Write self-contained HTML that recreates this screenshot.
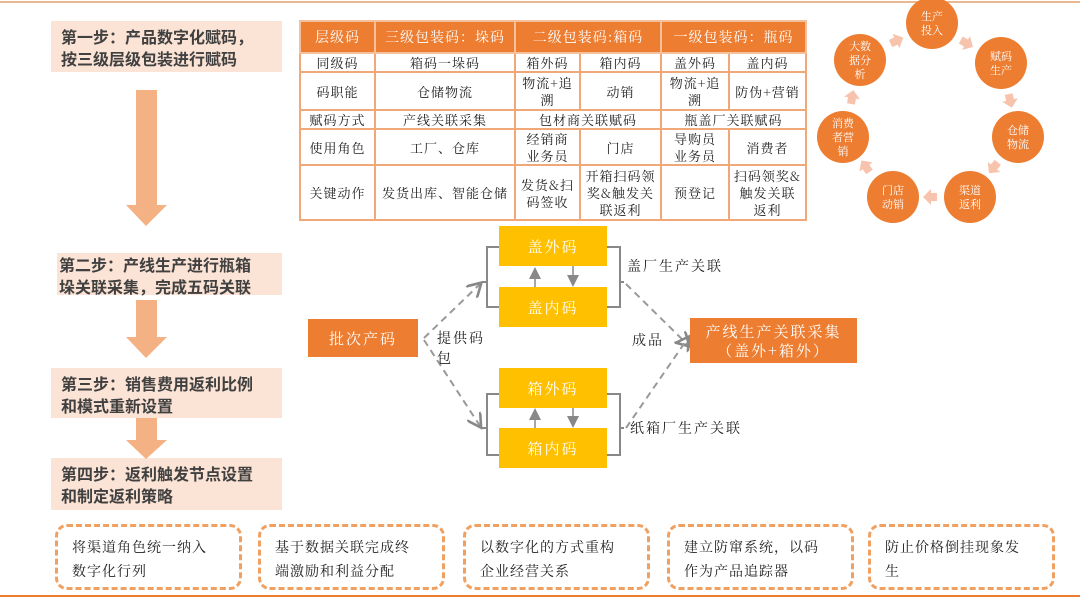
<!DOCTYPE html>
<html><head><meta charset="utf-8"><style>
body{margin:0;width:1080px;height:599px;background:#fff;position:relative;overflow:hidden;font-family:"Liberation Sans","Noto Sans CJK SC",sans-serif;color:#333}
.a{position:absolute}
.step{position:absolute;background:#fbe3d5;color:#404040;font-size:16px;font-weight:bold;line-height:22px;padding:4px 0 0 10px;box-sizing:border-box;font-family:"Noto Sans CJK SC",sans-serif}
table{position:absolute;left:299px;top:20px;border-collapse:collapse;font-family:"Noto Serif CJK SC","Noto Sans CJK SC",serif;font-size:13px;table-layout:fixed;letter-spacing:1px}
td{border:2px solid #f0a878;text-align:center;padding:0;line-height:17px;color:#222;white-space:nowrap}
th{background:#ed7d31;color:#fff;font-weight:normal;border:2px solid #f5c19d;font-size:14px}
.c{position:absolute;width:52px;height:52px;border-radius:50%;background:#ed7d31;color:#fff;font-size:11px;line-height:14px;display:flex;align-items:center;justify-content:center;text-align:center;font-family:"Noto Serif CJK SC",serif}
.y{position:absolute;background:#ffc000;color:#fff;font-size:15px;display:flex;align-items:center;justify-content:center;font-family:"Noto Serif CJK SC",serif;letter-spacing:2px}
.o{position:absolute;background:#ed7d31;color:#fff;font-size:15px;display:flex;align-items:center;justify-content:center;text-align:center;line-height:19px;font-family:"Noto Serif CJK SC",serif;letter-spacing:2px}
.lb{position:absolute;font-size:14px;color:#222;font-family:"Noto Serif CJK SC",serif;letter-spacing:2px}
.bx{position:absolute;top:524px;height:66px;width:187px;border:3px dashed #f0a060;border-radius:12px;box-sizing:border-box;font-size:14px;line-height:24px;padding:8px 0 0 14px;color:#222;font-family:"Noto Serif CJK SC",serif;letter-spacing:1px}
</style></head><body>
<div class="a" style="left:0;top:1px;width:1080px;height:2px;background:#e8b890"></div>
<div class="a" style="left:0;top:595px;width:1080px;height:2px;background:#ed7d31"></div>

<div class="step" style="left:51px;top:21px;width:231px;height:51px">第一步：产品数字化赋码，<br>按三级层级包装进行赋码</div>
<div class="step" style="left:57px;top:253px;width:225px;height:42px;padding-top:0;padding-left:2px">第二步：产线生产进行瓶箱<br>垛关联采集，完成五码关联</div>
<div class="step" style="left:51px;top:368px;width:231px;height:50px">第三步：销售费用返利比例<br>和模式重新设置</div>
<div class="step" style="left:51px;top:458px;width:231px;height:52px">第四步：返利触发节点设置<br>和制定返利策略</div>
<svg class="a" style="left:0;top:0" width="300" height="520">
<g fill="#f4b183">
<rect x="136" y="90" width="21" height="116"/><polygon points="126,205 167,205 146,226"/>
<rect x="136" y="300" width="21" height="38"/><polygon points="126,337 167,337 146,358"/>
<rect x="136" y="418" width="21" height="23"/><polygon points="126,440 167,440 146,459"/>
</g></svg>

<table>
<colgroup><col style="width:75px"><col style="width:140px"><col style="width:65px"><col style="width:81px"><col style="width:68px"><col style="width:77px"></colgroup>
<tr style="height:32px"><th>层级码</th><th>三级包装码：垛码</th><th colspan="2">二级包装码:箱码</th><th colspan="2">一级包装码：瓶码</th></tr>
<tr style="height:19px"><td>同级码</td><td>箱码一垛码</td><td>箱外码</td><td>箱内码</td><td>盖外码</td><td>盖内码</td></tr>
<tr style="height:38px"><td>码职能</td><td>仓储物流</td><td>物流+追<br>溯</td><td>动销</td><td>物流+追<br>溯</td><td>防伪+营销</td></tr>
<tr style="height:18px"><td>赋码方式</td><td>产线关联采集</td><td colspan="2">包材商关联赋码</td><td colspan="2">瓶盖厂关联赋码</td></tr>
<tr style="height:36px"><td>使用角色</td><td>工厂、仓库</td><td>经销商<br>业务员</td><td>门店</td><td>导购员<br>业务员</td><td>消费者</td></tr>
<tr style="height:55px"><td>关键动作</td><td>发货出库、智能仓储</td><td>发货&amp;扫<br>码签收</td><td>开箱扫码领<br>奖&amp;触发关<br>联返利</td><td>预登记</td><td>扫码领奖&amp;<br>触发关联<br>返利</td></tr>
</table>

<svg class="a" style="left:0;top:0" width="1080" height="240">
<g fill="#f7c3ad">
<path d="M-6,-4 H0 V-8 L8,0 L0,8 V4 H-6Z" transform="translate(966,43) rotate(30)"/>
<path d="M-6,-4 H0 V-8 L8,0 L0,8 V4 H-6Z" transform="translate(1010,100) rotate(77)"/>
<path d="M-6,-4 H0 V-8 L8,0 L0,8 V4 H-6Z" transform="translate(994,167) rotate(129)"/>
<path d="M-6,-4 H0 V-8 L8,0 L0,8 V4 H-6Z" transform="translate(931,197) rotate(180)"/>
<path d="M-6,-4 H0 V-8 L8,0 L0,8 V4 H-6Z" transform="translate(866,167) rotate(235)"/>
<path d="M-6,-4 H0 V-8 L8,0 L0,8 V4 H-6Z" transform="translate(852,98) rotate(-80)"/>
<path d="M-6,-4 H0 V-8 L8,0 L0,8 V4 H-6Z" transform="translate(896,41) rotate(-25)"/>
</g></svg>
<div class="c" style="left:906px;top:-3px">生产<br>投入</div>
<div class="c" style="left:975px;top:37px">赋码<br>生产</div>
<div class="c" style="left:992px;top:111px">仓储<br>物流</div>
<div class="c" style="left:944px;top:171px">渠道<br>返利</div>
<div class="c" style="left:867px;top:171px">门店<br>动销</div>
<div class="c" style="left:817px;top:111px">消费<br>者营<br>销</div>
<div class="c" style="left:834px;top:34px">大数<br>据分<br>析</div>

<svg class="a" style="left:0;top:0" width="1080" height="599">
<defs><marker id="m" markerWidth="8" markerHeight="8" refX="6" refY="4" orient="auto"><path d="M0,0 L7,4 L0,8" fill="none" stroke="#888" stroke-width="1.3"/></marker>
<marker id="s" markerWidth="8" markerHeight="8" refX="6" refY="4" orient="auto"><path d="M0,0 L8,4 L0,8z" fill="#888"/></marker></defs>
<g fill="none" stroke="#888" stroke-width="2">
<path d="M499,247 H487 V307 H499 M487,282 H482"/>
<path d="M607,247 H620 V307 H607 M620,282 H624"/>
<path d="M499,394 H487 V455 H499 M487,428 H482"/>
<path d="M607,394 H620 V455 H607 M620,428 H624"/>
</g>
<g stroke="#888" stroke-width="1.5">
<line x1="535" y1="287" x2="535" y2="270" marker-end="url(#s)"/>
<line x1="573" y1="266" x2="573" y2="284" marker-end="url(#s)"/>
<line x1="535" y1="428" x2="535" y2="411" marker-end="url(#s)"/>
<line x1="573" y1="407" x2="573" y2="425" marker-end="url(#s)"/>
</g>
<g fill="none" stroke="#999" stroke-width="2" stroke-dasharray="7,5">
<path d="M424,338 L480,284" marker-end="url(#m)"/>
<path d="M424,340 L480,426" marker-end="url(#m)"/>
<path d="M626,284 L688,345" marker-end="url(#m)"/>
<path d="M626,428 L688,338" marker-end="url(#m)"/>
</g></svg>
<div class="y" style="left:499px;top:226px;width:108px;height:40px">盖外码</div>
<div class="y" style="left:499px;top:287px;width:108px;height:40px">盖内码</div>
<div class="y" style="left:499px;top:368px;width:108px;height:40px">箱外码</div>
<div class="y" style="left:499px;top:428px;width:108px;height:40px">箱内码</div>
<div class="o" style="left:308px;top:319px;width:110px;height:38px">批次产码</div>
<div class="o" style="left:690px;top:318px;width:167px;height:45px">产线生产关联采集<br>（盖外+箱外）</div>
<div class="lb" style="left:437px;top:328px;width:60px;line-height:20px">提供码<br>包</div>
<div class="lb" style="left:632px;top:330px">成品</div>
<div class="lb" style="left:627px;top:256px">盖厂生产关联</div>
<div class="lb" style="left:630px;top:418px">纸箱厂生产关联</div>

<div class="bx" style="left:55px">将渠道角色统一纳入<br>数字化行列</div>
<div class="bx" style="left:258px">基于数据关联完成终<br>端激励和利益分配</div>
<div class="bx" style="left:463px">以数字化的方式重构<br>企业经营关系</div>
<div class="bx" style="left:667px">建立防窜系统，以码<br>作为产品追踪器</div>
<div class="bx" style="left:868px">防止价格倒挂现象发<br>生</div>
</body></html>
